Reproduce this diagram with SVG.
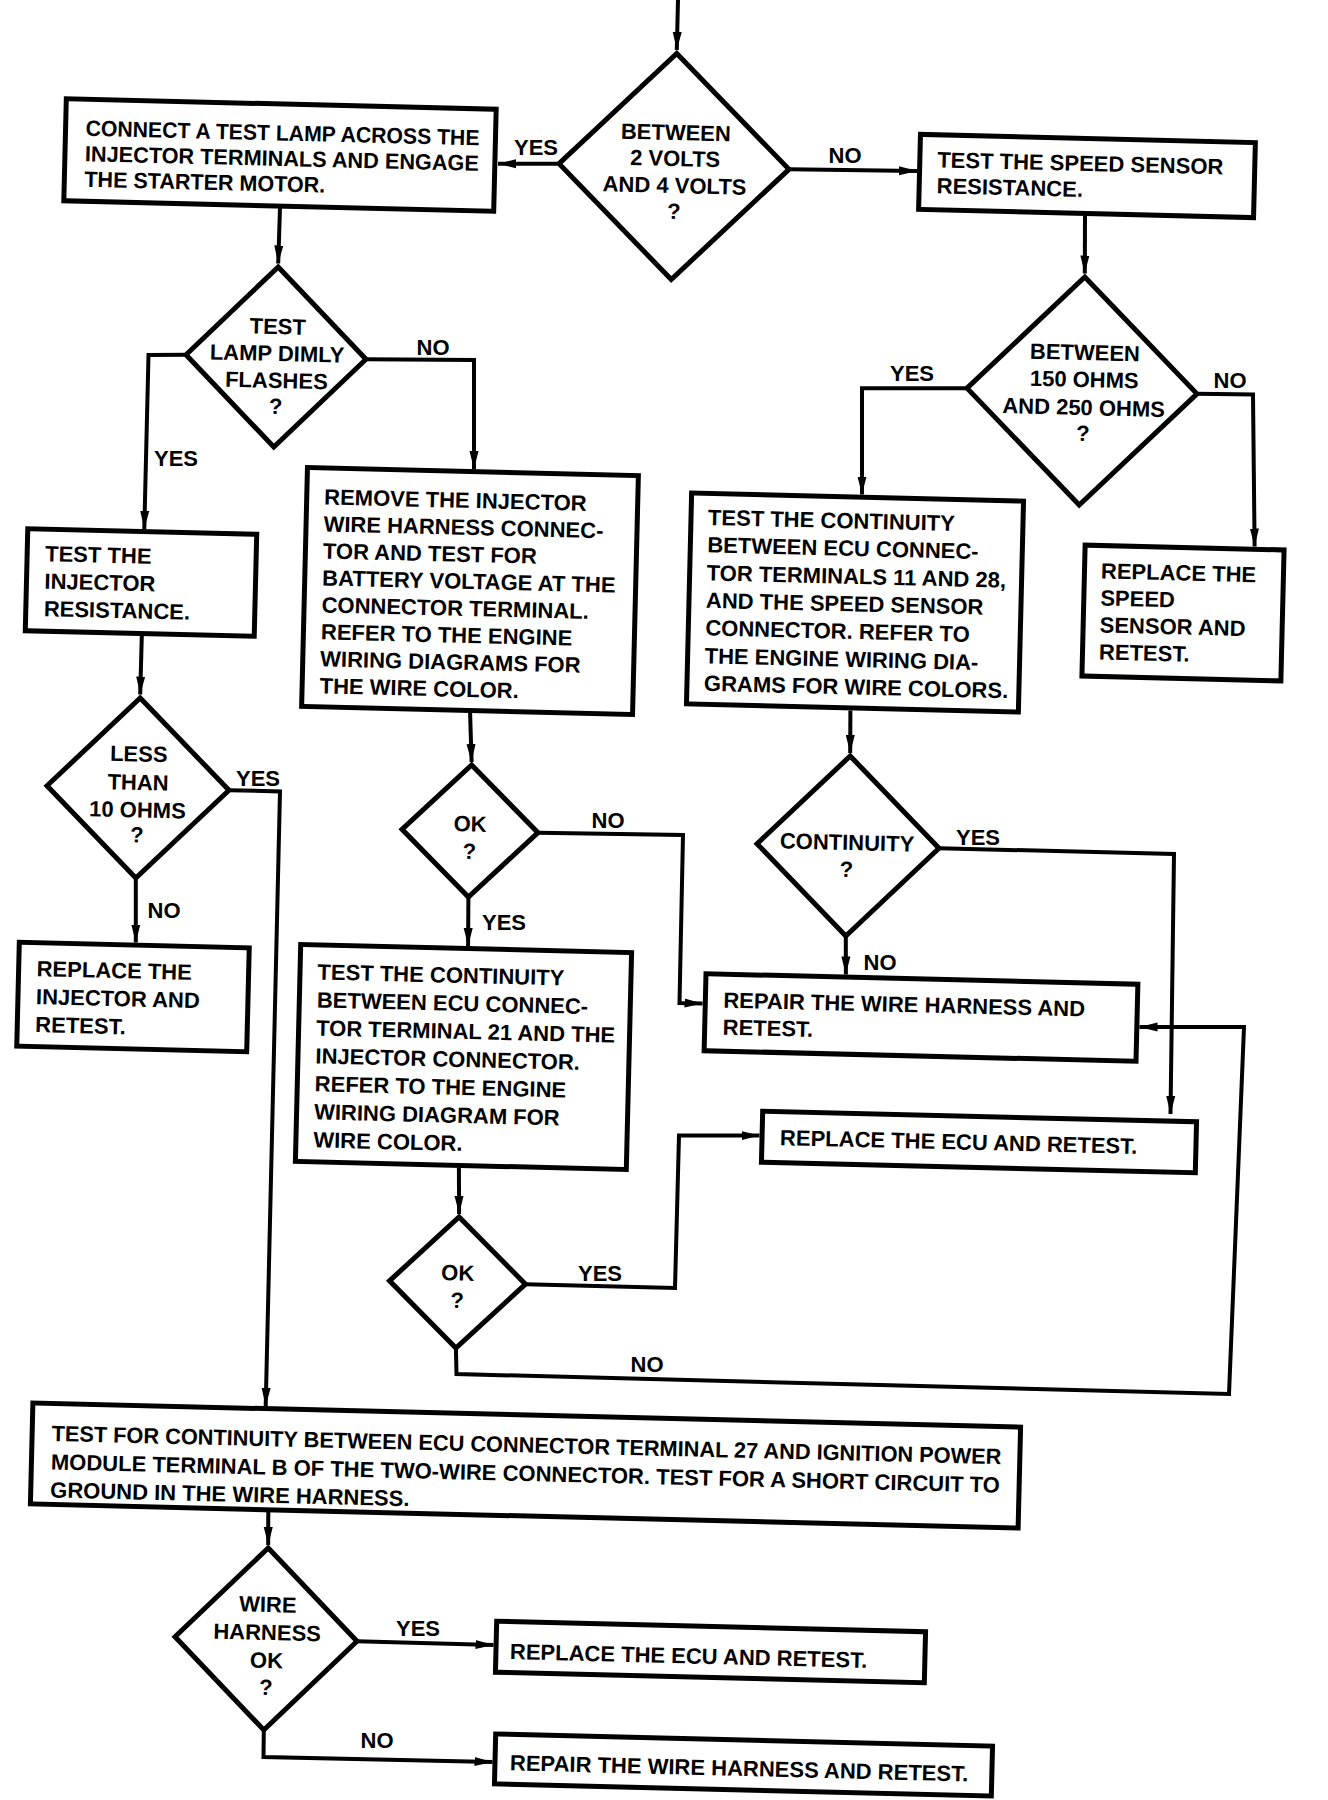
<svg xmlns="http://www.w3.org/2000/svg" width="1328" height="1800" viewBox="0 0 1328 1800">
<defs>
<marker id="ah" markerUnits="userSpaceOnUse" markerWidth="20" markerHeight="10" refX="18" refY="5" orient="auto">
<path d="M0,0.5 L18,5 L0,9.5 z" fill="#000"/>
</marker>
<style>
.n rect,.n polygon{fill:#fff;stroke:#000;stroke-width:5;stroke-linejoin:miter}
text{font-family:"Liberation Sans",Arial,Helvetica,sans-serif;font-weight:bold;font-size:22px;fill:#000}
.m{text-anchor:middle}
.c path{fill:none;stroke:#000;stroke-width:4;stroke-linejoin:miter;marker-end:url(#ah)}
</style>
</defs>
<rect width="1328" height="1800" fill="#fff"/>

<g id="connectors" class="c">
<path d="M678,0 L676.8,50"/>
<path d="M559,163.7 L498,163.7"/>
<path d="M789,169.3 L917,171"/>
<path d="M1085,216 L1084.8,273.5"/>
<path d="M967,388.2 L862,388.2 L862,494.5"/>
<path d="M1197,393.8 L1253,394.5 L1254.6,546.5"/>
<path d="M280,208 L278.2,263.5"/>
<path d="M366,359.2 L474,360 L474,469"/>
<path d="M186,354.8 L148.5,355 L144.3,529"/>
<path d="M141.8,636 L140.2,694.5"/>
<path d="M229,790.2 L280,791.4 L265.7,1406"/>
<path d="M135.8,878 L135.8,942.5"/>
<path d="M470.1,713 L471.6,762"/>
<path d="M538,832.7 L683,835 L679.5,1003 L702.5,1003.5"/>
<path d="M468.4,897 L468.1,946"/>
<path d="M458.9,1168 L459.1,1214"/>
<path d="M525.5,1284.2 L675,1288 L679,1135.5 L759.5,1135.5"/>
<path d="M455.9,1348 L456.5,1374 L1229,1394 L1244,1027 L1139.5,1027"/>
<path d="M939,848.2 L1174,854 L1170.5,1114"/>
<path d="M845.8,936 L845.9,974.5"/>
<path d="M850.4,710.5 L850.2,753"/>
<path d="M268.3,1512 L268.2,1545"/>
<path d="M357,1641.2 L493.5,1645"/>
<path d="M263.8,1730 L263.5,1757 L492.5,1762"/>
<g id="labels">
<text class="m" x="536" y="155">YES</text>
<text class="m" x="845" y="163">NO</text>
<text class="m" x="912" y="381">YES</text>
<text class="m" x="1230" y="388">NO</text>
<text class="m" x="433" y="355">NO</text>
<text class="m" x="176" y="466">YES</text>
<text class="m" x="258" y="786">YES</text>
<text class="m" x="164" y="918">NO</text>
<text class="m" x="608" y="828">NO</text>
<text class="m" x="504" y="930">YES</text>
<text class="m" x="978" y="845">YES</text>
<text class="m" x="880" y="970">NO</text>
<text class="m" x="600" y="1281">YES</text>
<text class="m" x="647" y="1372">NO</text>
<text class="m" x="418" y="1636">YES</text>
<text class="m" x="377" y="1748">NO</text>
</g>
</g>

<g id="n_volts" class="n" transform="rotate(1.4 674 166.5)">
<polygon points="674,53.5 789,166.5 674,279.5 559,166.5"/>
<text class="m" x="675" y="140">BETWEEN</text>
<text class="m" x="675" y="166">2 VOLTS</text>
<text class="m" x="675" y="193">AND 4 VOLTS</text>
<text class="m" x="675" y="219">?</text>
</g>

<g id="n_testlamp" class="n" transform="rotate(1.4 280 155)">
<rect x="65" y="104" width="430" height="102"/>
<text x="85" y="140.5" textLength="394" lengthAdjust="spacingAndGlyphs">CONNECT A TEST LAMP ACROSS THE</text>
<text x="85" y="166" textLength="394" lengthAdjust="spacingAndGlyphs">INJECTOR TERMINALS AND ENGAGE</text>
<text x="85" y="191.5" textLength="241" lengthAdjust="spacingAndGlyphs">THE STARTER MOTOR.</text>
</g>

<g id="n_speedres" class="n" transform="rotate(1.4 1087 176)">
<rect x="919.5" y="138.5" width="335" height="75"/>
<text x="937" y="171">TEST THE SPEED SENSOR</text>
<text x="937" y="197">RESISTANCE.</text>
</g>

<g id="n_ohms150" class="n" transform="rotate(1.4 1082 391)">
<polygon points="1082,277 1197,391 1082,505 967,391"/>
<text class="m" x="1084" y="360">BETWEEN</text>
<text class="m" x="1084" y="387">150 OHMS</text>
<text class="m" x="1084" y="415">AND 250 OHMS</text>
<text class="m" x="1084" y="441">?</text>
</g>

<g id="n_dimly" class="n" transform="rotate(1.4 276 357)">
<polygon points="276,267 366,357 276,447 186,357"/>
<text class="m" x="277" y="334">TEST</text>
<text class="m" x="277" y="361">LAMP DIMLY</text>
<text class="m" x="277" y="388">FLASHES</text>
<text class="m" x="277" y="414">?</text>
</g>

<g id="n_removeinj" class="n" transform="rotate(1.4 470 591)">
<rect x="304.5" y="471.5" width="331" height="239"/>
<text x="322" y="508">REMOVE THE INJECTOR</text>
<text x="322" y="535">WIRE HARNESS CONNEC-</text>
<text x="322" y="562">TOR AND TEST FOR</text>
<text x="322" y="589">BATTERY VOLTAGE AT THE</text>
<text x="322" y="616">CONNECTOR TERMINAL.</text>
<text x="322" y="643">REFER TO THE ENGINE</text>
<text x="322" y="670">WIRING DIAGRAMS FOR</text>
<text x="322" y="697">THE WIRE COLOR.</text>
</g>

<g id="n_cont1128" class="n" transform="rotate(1.4 855 602.5)">
<rect x="689" y="497" width="332" height="211"/>
<text x="706" y="528.5">TEST THE CONTINUITY</text>
<text x="706" y="556">BETWEEN ECU CONNEC-</text>
<text x="706" y="584">TOR TERMINALS 11 AND 28,</text>
<text x="706" y="611.5">AND THE SPEED SENSOR</text>
<text x="706" y="639">CONNECTOR. REFER TO</text>
<text x="706" y="667">THE ENGINE WIRING DIA-</text>
<text x="706" y="694.5">GRAMS FOR WIRE COLORS.</text>
</g>

<g id="n_replspeed" class="n" transform="rotate(1.4 1183 613)">
<rect x="1083.5" y="547.5" width="199" height="131"/>
<text x="1100" y="580.5">REPLACE THE</text>
<text x="1100" y="607.5">SPEED</text>
<text x="1100" y="634.5">SENSOR AND</text>
<text x="1100" y="661.5">RETEST.</text>
</g>

<g id="n_injres" class="n" transform="rotate(1.4 141 582.5)">
<rect x="26.5" y="531.5" width="229" height="102"/>
<text x="44.5" y="563.5">TEST THE</text>
<text x="44.5" y="591">INJECTOR</text>
<text x="44.5" y="618.5">RESISTANCE.</text>
</g>

<g id="n_less10" class="n" transform="rotate(1.4 138 788)">
<polygon points="138,698 229,788 138,878 47,788"/>
<text class="m" x="138" y="761.5">LESS</text>
<text class="m" x="138" y="790">THAN</text>
<text class="m" x="138" y="817.5">10 OHMS</text>
<text class="m" x="138" y="842.5">?</text>
</g>

<g id="n_replinj" class="n" transform="rotate(1.4 133 997)">
<rect x="18" y="945" width="230" height="104"/>
<text x="36" y="978.5">REPLACE THE</text>
<text x="36" y="1006.5">INJECTOR AND</text>
<text x="36" y="1034.5">RETEST.</text>
</g>

<g id="n_ok1" class="n" transform="rotate(1.4 470 831)">
<polygon points="470,765 538,831 470,897 402,831"/>
<text class="m" x="470" y="831.5">OK</text>
<text class="m" x="470" y="859">?</text>
</g>

<g id="n_continuity" class="n" transform="rotate(1.4 848 846)">
<polygon points="848,756 939,846 848,936 757,846"/>
<text class="m" x="847" y="850">CONTINUITY</text>
<text class="m" x="847" y="877">?</text>
</g>

<g id="n_repair1" class="n" transform="rotate(1.4 921 1017.5)">
<rect x="705" y="979" width="432" height="77"/>
<text x="723" y="1012.5">REPAIR THE WIRE HARNESS AND</text>
<text x="723" y="1039.5">RETEST.</text>
</g>

<g id="n_cont21" class="n" transform="rotate(1.4 463.5 1057)">
<rect x="298" y="948.5" width="331" height="217"/>
<text x="315.5" y="983">TEST THE CONTINUITY</text>
<text x="315.5" y="1011">BETWEEN ECU CONNEC-</text>
<text x="315.5" y="1039">TOR TERMINAL 21 AND THE</text>
<text x="315.5" y="1067">INJECTOR CONNECTOR.</text>
<text x="315.5" y="1095">REFER TO THE ENGINE</text>
<text x="315.5" y="1123">WIRING DIAGRAM FOR</text>
<text x="315.5" y="1151">WIRE COLOR.</text>
</g>

<g id="n_replecu1" class="n" transform="rotate(1.4 979 1142)">
<rect x="762" y="1116.5" width="434" height="51"/>
<text x="780" y="1150">REPLACE THE ECU AND RETEST.</text>
</g>

<g id="n_ok2" class="n" transform="rotate(1.4 457.5 1282.5)">
<polygon points="457.5,1217 525.5,1282.5 457.5,1348 389.5,1282.5"/>
<text class="m" x="457.5" y="1280.5">OK</text>
<text class="m" x="457.5" y="1308">?</text>
</g>

<g id="n_cont27" class="n" transform="rotate(1.4 525.5 1465.5)">
<rect x="31.5" y="1415" width="988" height="101"/>
<text x="51" y="1452.5" textLength="950" lengthAdjust="spacingAndGlyphs">TEST FOR CONTINUITY BETWEEN ECU CONNECTOR TERMINAL 27 AND IGNITION POWER</text>
<text x="51" y="1481">MODULE TERMINAL B OF THE TWO-WIRE CONNECTOR. TEST FOR A SHORT CIRCUIT TO</text>
<text x="51" y="1509">GROUND IN THE WIRE HARNESS.</text>
</g>

<g id="n_harnessok" class="n" transform="rotate(1.4 266 1639)">
<polygon points="266,1548 357,1639 266,1730 175,1639"/>
<text class="m" x="267" y="1612">WIRE</text>
<text class="m" x="267" y="1640">HARNESS</text>
<text class="m" x="267" y="1668">OK</text>
<text class="m" x="267" y="1695">?</text>
</g>

<g id="n_replecu2" class="n" transform="rotate(1.4 710.5 1652)">
<rect x="496" y="1626.5" width="429" height="51"/>
<text x="510" y="1664">REPLACE THE ECU AND RETEST.</text>
</g>

<g id="n_repair2" class="n" transform="rotate(1.4 743.5 1765)">
<rect x="495" y="1740" width="497" height="50"/>
<text x="510" y="1776">REPAIR THE WIRE HARNESS AND RETEST.</text>
</g>
</svg>
